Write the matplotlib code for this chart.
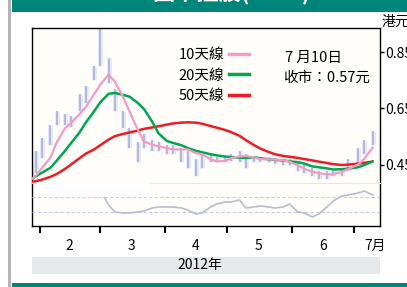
import pandas as pd
import matplotlib
matplotlib.use('Agg')
import matplotlib.pyplot as plt
from matplotlib.patches import Rectangle
from matplotlib.lines import Line2D

plt.rcParams['font.family'] = ['Liberation Sans Narrow', 'Noto Sans CJK TC', 'DejaVu Sans']

# sample dates (2012)
dates = ['2012-01-28', '2012-01-30', '2012-02-02', '2012-02-06', '2012-02-09', '2012-02-13',
         '2012-02-16', '2012-02-20', '2012-02-23', '2012-02-27', '2012-03-01', '2012-03-05',
         '2012-03-08', '2012-03-12', '2012-03-15', '2012-03-19', '2012-03-22', '2012-03-26',
         '2012-03-29', '2012-04-02', '2012-04-05', '2012-04-09', '2012-04-12', '2012-04-16',
         '2012-04-19', '2012-04-23', '2012-04-26', '2012-04-30', '2012-05-03', '2012-05-07',
         '2012-05-10', '2012-05-14', '2012-05-17', '2012-05-21', '2012-05-24', '2012-05-28',
         '2012-05-31', '2012-06-04', '2012-06-07', '2012-06-11', '2012-06-14', '2012-06-18',
         '2012-06-21', '2012-06-25', '2012-06-28', '2012-07-03', '2012-07-06', '2012-07-10']

price_high = [0.46, 0.50, 0.545, 0.59, 0.64, 0.63, 0.625, 0.70, 0.73, 0.80,
              0.93, 0.83, 0.72, 0.64, 0.58, 0.53, 0.56, 0.54, 0.53, 0.52,
              0.52, 0.51, 0.50, 0.47, 0.49, 0.49, 0.48, 0.48, 0.49, 0.50,
              0.49, 0.48, 0.48, 0.48, 0.475, 0.47, 0.47, 0.46, 0.45, 0.44,
              0.43, 0.43, 0.43, 0.44, 0.47, 0.51, 0.54, 0.57]
price_low = [0.40, 0.42, 0.475, 0.52, 0.59, 0.59, 0.585, 0.64, 0.67, 0.75,
             0.80, 0.74, 0.64, 0.58, 0.51, 0.46, 0.51, 0.50, 0.50, 0.49,
             0.49, 0.46, 0.44, 0.41, 0.44, 0.46, 0.46, 0.46, 0.465, 0.46,
             0.44, 0.46, 0.46, 0.46, 0.455, 0.45, 0.45, 0.43, 0.42, 0.41,
             0.40, 0.40, 0.41, 0.41, 0.43, 0.45, 0.49, 0.52]

ma10 = [0.400, 0.412, 0.44, 0.476, 0.53, 0.58, 0.60, 0.63, 0.655, 0.70,
        0.735, 0.77, 0.745, 0.69, 0.64, 0.575, 0.533, 0.522, 0.516, 0.51,
        0.505, 0.505, 0.505, 0.492, 0.488, 0.47, 0.463, 0.464, 0.475, 0.48,
        0.482, 0.476, 0.471, 0.47, 0.469, 0.467, 0.462, 0.448, 0.437, 0.426,
        0.421, 0.417, 0.417, 0.425, 0.435, 0.452, 0.472, 0.512]
ma20 = [0.400, 0.41, 0.423, 0.44, 0.465, 0.50, 0.528, 0.565, 0.60, 0.64,
        0.672, 0.702, 0.705, 0.698, 0.692, 0.67, 0.648, 0.603, 0.562, 0.535,
        0.528, 0.52, 0.51, 0.50, 0.495, 0.488, 0.484, 0.48, 0.478, 0.476,
        0.475, 0.477, 0.474, 0.47, 0.468, 0.466, 0.463, 0.46, 0.455, 0.445,
        0.442, 0.438, 0.434, 0.435, 0.437, 0.442, 0.45, 0.463]
ma50 = [0.39, 0.393, 0.398, 0.408, 0.418, 0.436, 0.452, 0.474, 0.49, 0.505,
        0.52, 0.54, 0.552, 0.56, 0.565, 0.572, 0.578, 0.583, 0.587, 0.593,
        0.597, 0.600, 0.601, 0.600, 0.596, 0.588, 0.582, 0.574, 0.566, 0.553,
        0.538, 0.52, 0.508, 0.496, 0.488, 0.482, 0.479, 0.475, 0.471, 0.466,
        0.462, 0.457, 0.453, 0.45, 0.451, 0.455, 0.458, 0.462]

# lower indicator panel, starts 1 March
indicator = [83.7, 48.8, 32.6, 30.2, 30.2, 32.6, 34.9, 41.9, 44.2, 44.2,
             44.2, 41.9, 37.2, 27.9, 30.2, 44.2, 51.2, 55.8, 55.8, 60.5,
             41.9, 44.2, 46.5, 44.2, 41.9, 44.2, 51.2, 32.6, 30.2, 20.9,
             27.9, 44.2, 58.1, 69.8, 72.1, 76.7, 81.4, 72.1]

month_starts = ['2012-02-01', '2012-03-01', '2012-04-01', '2012-05-01', '2012-06-01', '2012-07-01']
month_label_dates = ['2012-02-15', '2012-03-16', '2012-04-16', '2012-05-16', '2012-06-16', '2012-07-11']
month_labels = ['2', '3', '4', '5', '6', '7月']
y_ticks = [0.45, 0.65, 0.85]

legend_labels = ['10天線', '20天線', '50天線']
note_lines = ['7 月10日', '收市：0.57元']
title = '國中控股(0202)'


def doy(ds):
    return pd.to_datetime(ds).dayofyear.values - 1


W, H = 407, 287
teal = '#00857a'
pink = '#f39bc4'
green = '#00a651'
red = '#ec1c24'


def fx(x):
    return x / W


def fy(y):
    return 1 - y / H


fig = plt.figure(figsize=(W / 100, H / 100), dpi=100)
fig.patch.set_facecolor('white')

# page decoration
fig.add_artist(Rectangle((fx(12), fy(12)), 1, 12 / H, color=teal, lw=0, transform=fig.transFigure))
fig.add_artist(Rectangle((fx(12), 0), 1, 4 / H, color=teal, lw=0, transform=fig.transFigure))
fig.add_artist(Rectangle((fx(8), 0), 3 / W, 1, color='#b4b4b4', lw=0, transform=fig.transFigure))
fig.add_artist(Rectangle((fx(32), fy(274)), (380 - 32) / W, 17 / H, color='#e6e9e9', lw=0,
                         transform=fig.transFigure))
fig.text(fx(232), fy(-6), title, color='white', fontsize=16, fontweight='bold',
         ha='center', va='center')
fig.text(fx(200), fy(265.5), '2012年', fontsize=10, ha='center', va='center')
fig.text(fx(382), fy(22), '港元', fontsize=10, ha='left', va='center')
fig.text(fx(285), fy(58), note_lines[0], fontsize=10.5, ha='left', va='center')
fig.text(fx(283), fy(78), note_lines[1], fontsize=10.5, ha='left', va='center')

x = doy(dates)

ax = fig.add_axes([fx(32), fy(226), (380 - 32) / W, (226 - 28) / H])
ax.set_facecolor('#fefdf9')
ax.vlines(x, price_low, price_high, color='#e6e9f5', lw=3.5, zorder=1)
ax.vlines(x, price_low, price_high, color='#a3abd8', lw=1.1, zorder=1.5)
ax.plot(x, ma50, color=red, lw=1.8, zorder=3, solid_capstyle='round')
ax.plot(x, ma20, color=green, lw=1.8, zorder=4, solid_capstyle='round')
ax.plot(x, ma10, color=pink, lw=1.6, zorder=5, solid_capstyle='round')

ax.set_xlim(27.15, 194.5)
ax.set_ylim(0.234, 0.935)
ax.yaxis.tick_right()
ax.set_yticks(y_ticks)
ax.set_yticklabels(['%.2f' % v for v in y_ticks])
ax.tick_params(axis='y', direction='out', length=3, width=1, pad=1, labelsize=10)
ax.set_xticks(doy(month_starts))
ax.set_xticklabels([])
ax.set_xticks(doy(month_label_dates), minor=True)
ax.set_xticklabels(month_labels, minor=True)
ax.tick_params(axis='x', which='major', direction='out', length=5, width=1.5)
ax.tick_params(axis='x', which='minor', length=0, pad=9, labelsize=10)
for s in ax.spines.values():
    s.set_color('black')
    s.set_linewidth(1)

handles = [Line2D([], [], color=c, lw=2.5) for c in (pink, green, red)]
ax.legend(handles, legend_labels, loc='upper right', bbox_to_anchor=(fx(249), fy(48)),
          bbox_transform=fig.transFigure, frameon=False, markerfirst=False,
          handlelength=1.4, handletextpad=0.3, labelspacing=0.45, borderpad=0,
          borderaxespad=0, fontsize=10.5)

# indicator panel
ax2 = fig.add_axes([fx(32), fy(226), (380 - 32) / W, (226 - 183) / H], sharex=ax)
ax2.set_facecolor('none')
ax2.set_ylim(0, 100)
ax2.plot(x[10:], indicator, color='#b9bdcc', lw=1.2, zorder=2)
for lvl in (32.6, 67.4):
    ax2.axhline(lvl, color='#c9cde2', lw=0.8, ls=(0, (3, 2)), zorder=1)
ax2.add_patch(Rectangle(((37 - 32) / 348, (226 - 197) / 43), (150 - 37) / 348, 14 / 43,
                        transform=ax2.transAxes, color='white', lw=0, zorder=3, clip_on=False))
for k, s in ax2.spines.items():
    s.set_visible(k == 'top')
ax2.spines['top'].set_color('#efe6d8')
ax2.tick_params(left=False, bottom=False, labelleft=False, labelbottom=False,
                which='both')

fig.savefig('out.png', dpi=100)
